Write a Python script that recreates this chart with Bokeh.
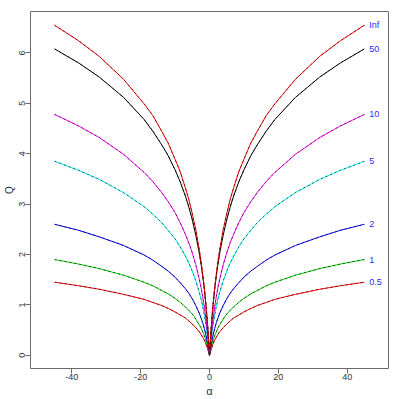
from bokeh.plotting import figure
from bokeh.models import Range1d, FixedTicker
from bokeh.embed import file_html
from bokeh.resources import INLINE
from bokeh.core.properties import value

# x values (alpha)
alpha = [-45, -38, -32, -25, -19, -16.5, -14, -12, -10, -8.5, -7, -6, -5, -4, -3, -2.5, -2, -1.5, -1, -0.5,
         0,
         0.5, 1, 1.5, 2, 2.5, 3, 4, 5, 6, 7, 8.5, 10, 12, 14, 16.5, 19, 25, 32, 38, 45]

# Q values, one list per curve
q_05 = [1.45, 1.38, 1.31, 1.21, 1.11, 1.05, 0.99, 0.93, 0.86, 0.80, 0.74, 0.68, 0.62, 0.55, 0.47, 0.42, 0.36, 0.30, 0.22, 0.12,
        0,
        0.12, 0.22, 0.30, 0.36, 0.42, 0.47, 0.55, 0.62, 0.68, 0.74, 0.80, 0.86, 0.93, 0.99, 1.05, 1.11, 1.21, 1.31, 1.38, 1.45]
q_1 = [1.90, 1.81, 1.72, 1.59, 1.45, 1.38, 1.29, 1.22, 1.13, 1.05, 0.96, 0.89, 0.82, 0.72, 0.61, 0.55, 0.47, 0.39, 0.29, 0.16,
       0,
       0.16, 0.29, 0.39, 0.47, 0.55, 0.61, 0.72, 0.82, 0.89, 0.96, 1.05, 1.13, 1.22, 1.29, 1.38, 1.45, 1.59, 1.72, 1.81, 1.90]
q_2 = [2.60, 2.48, 2.35, 2.18, 1.99, 1.89, 1.77, 1.67, 1.55, 1.44, 1.32, 1.23, 1.12, 0.99, 0.84, 0.75, 0.65, 0.53, 0.39, 0.22,
       0,
       0.22, 0.39, 0.53, 0.65, 0.75, 0.84, 0.99, 1.12, 1.23, 1.32, 1.44, 1.55, 1.67, 1.77, 1.89, 1.99, 2.18, 2.35, 2.48, 2.60]
q_5 = [3.85, 3.67, 3.49, 3.23, 2.95, 2.80, 2.64, 2.48, 2.31, 2.15, 1.97, 1.83, 1.67, 1.48, 1.26, 1.13, 0.98, 0.80, 0.59, 0.34,
       0,
       0.34, 0.59, 0.80, 0.98, 1.13, 1.26, 1.48, 1.67, 1.83, 1.97, 2.15, 2.31, 2.48, 2.64, 2.80, 2.95, 3.23, 3.49, 3.67, 3.85]
q_10 = [4.78, 4.55, 4.32, 3.99, 3.63, 3.45, 3.24, 3.05, 2.83, 2.63, 2.40, 2.23, 2.03, 1.80, 1.52, 1.36, 1.17, 0.96, 0.70, 0.40,
        0,
        0.40, 0.70, 0.96, 1.17, 1.36, 1.52, 1.80, 2.03, 2.23, 2.40, 2.63, 2.83, 3.05, 3.24, 3.45, 3.63, 3.99, 4.32, 4.55, 4.78]
q_50 = [6.08, 5.80, 5.52, 5.12, 4.68, 4.45, 4.19, 3.96, 3.68, 3.44, 3.16, 2.94, 2.69, 2.39, 2.04, 1.83, 1.59, 1.31, 0.97, 0.55,
        0,
        0.55, 0.97, 1.31, 1.59, 1.83, 2.04, 2.39, 2.69, 2.94, 3.16, 3.44, 3.68, 3.96, 4.19, 4.45, 4.68, 5.12, 5.52, 5.80, 6.08]
q_inf = [6.55, 6.24, 5.93, 5.48, 4.99, 4.76, 4.46, 4.21, 3.89, 3.64, 3.32, 3.09, 2.81, 2.50, 2.11, 1.89, 1.62, 1.34, 0.98, 0.55,
         0,
         0.55, 0.98, 1.34, 1.62, 1.89, 2.11, 2.50, 2.81, 3.09, 3.32, 3.64, 3.89, 4.21, 4.46, 4.76, 4.99, 5.48, 5.93, 6.24, 6.55]

curve_names = ["0.5", "1", "2", "5", "10", "50", "Inf"]
curve_values = [q_05, q_1, q_2, q_5, q_10, q_50, q_inf]
curve_colors = ["#FF0000", "#00CD00", "#0000FF", "#00F0F0", "#FF00FF", "#000000", "#FF0000"]

x_ticks = [-40, -20, 0, 20, 40]
y_ticks = [0, 1, 2, 3, 4, 5, 6]

FONT = "Liberation Sans"

p = figure(width=399, height=399, output_backend="svg", toolbar_location=None,
           x_range=Range1d(-52, 52), y_range=Range1d(-0.262, 6.822),
           min_border_left=30, min_border_right=11, min_border_top=11, min_border_bottom=30)
p.background_fill_color = "white"
p.border_fill_color = "white"
p.outline_line_color = "#6a6a6a"
p.outline_line_width = 1
p.xgrid.visible = False
p.ygrid.visible = False

for ax in (p.xaxis, p.yaxis):
    ax.axis_line_color = None
    ax.major_tick_out = 5
    ax.major_tick_in = 0
    ax.minor_tick_out = 0
    ax.minor_tick_in = 0
    ax.major_tick_line_color = "#6a6a6a"
    ax.major_label_text_font = FONT
    ax.major_label_text_font_size = "9px"
    ax.major_label_text_color = "#333333"
    ax.major_label_standoff = 0
    ax.axis_label_text_font = FONT
    ax.axis_label_text_font_style = "normal"
    ax.axis_label_text_color = "#333333"
    ax.axis_label_standoff = 2

p.xaxis.ticker = FixedTicker(ticks=x_ticks)
p.yaxis.ticker = FixedTicker(ticks=y_ticks)
p.xaxis.major_label_overrides = {t: str(t) for t in x_ticks}
p.yaxis.major_label_overrides = {t: str(t) for t in y_ticks}
p.yaxis.major_label_orientation = "vertical"
p.xaxis.axis_label = "α"
p.xaxis.axis_label_text_font_size = "11px"
p.yaxis.axis_label = "Q"
p.yaxis.axis_label_text_font_size = "10px"

for name, qv, col in zip(curve_names, curve_values, curve_colors):
    p.line(alpha, qv, line_color=col, line_width=1)
    p.line(alpha, qv, line_color="black", line_width=0.9, line_dash="2 3", line_alpha=0.65)

end_vals = [qv[-1] for qv in curve_values]
p.text(x=[46.4] * len(curve_names), y=end_vals, text=curve_names,
       text_font=value(FONT), text_font_size="9px", text_color="#2a2aff",
       text_align="left", text_baseline="middle")

open("out.html", "w").write(file_html(p, INLINE))
